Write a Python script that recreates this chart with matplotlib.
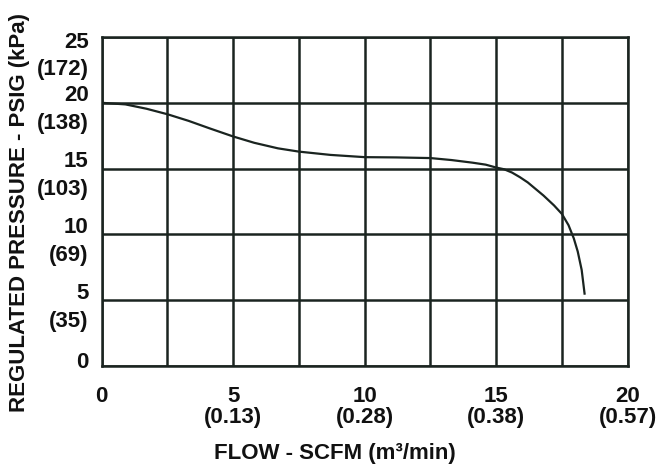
import matplotlib
matplotlib.use("Agg")
import matplotlib.pyplot as plt

# flow (SCFM) vs regulated pressure (PSIG)
flow = [0, 0.9, 1.7, 2.5, 3.3, 4.1, 5.0, 5.8, 6.7, 7.5, 8.7, 10.0, 11.2, 12.5,
        13.3, 14.1, 14.6, 15.0, 15.3, 15.6, 15.9, 16.2, 16.5, 16.8, 17.2,
        17.5, 17.75, 17.95, 18.1, 18.25, 18.36]
pressure = [20.0, 19.88, 19.55, 19.13, 18.63, 18.06, 17.44, 16.96, 16.54, 16.29,
            16.04, 15.87, 15.85, 15.8, 15.65, 15.45, 15.3, 15.08, 14.95, 14.7,
            14.35, 13.95, 13.45, 12.95, 12.2, 11.55, 10.7, 9.7, 8.7, 7.3, 5.5]

x_ticks = [0, 5, 10, 15, 20]
x_metric = ["", "(0.13)", "(0.28)", "(0.38)", "(0.57)"]
y_ticks = [0, 5, 10, 15, 20, 25]
y_metric = ["", "(35)", "(69)", "(103)", "(138)", "(172)"]

line_col = "#1a2420"
txt_col = "#111111"
plt.rcParams['font.family'] = ['Liberation Sans', 'DejaVu Sans']
plt.rcParams['font.weight'] = 'bold'

fig = plt.figure(figsize=(6.58, 4.68), dpi=100)
ax = fig.add_axes([101.7 / 658, 1 - 366 / 468, 526 / 658, 329 / 468])

ax.plot(flow, pressure, color=line_col, lw=1.6, zorder=3)

ax.set_xlim(0, 20)
ax.set_ylim(0, 25)
ax.set_xticks([i * 2.5 for i in range(9)])
ax.set_yticks(y_ticks)
ax.grid(True, color=line_col, lw=1.8)
ax.tick_params(length=0, labelbottom=False, labelleft=False)
for s in ax.spines.values():
    s.set_color(line_col)
    s.set_linewidth(1.8)

fs = 16
for v, m in zip(x_ticks, x_metric):
    ax.annotate(str(v), (v, 0), xycoords='data', textcoords='offset pixels',
                xytext=(0, -31), ha='center', va='center', fontsize=fs,
                fontweight='bold', color=txt_col)
    if m:
        ax.annotate(m, (v, 0), xycoords='data', textcoords='offset pixels',
                    xytext=(0, -52), ha='center', va='center', fontsize=fs,
                    fontweight='bold', color=txt_col)

for v, m in zip(y_ticks, y_metric):
    dn, dm = 7, -21
    if v == 25:
        dn, dm = -6, -33
    if v == 0:
        dn = 4
    ax.annotate(str(v), (0, v), xycoords=('axes fraction', 'data'),
                textcoords='offset pixels', xytext=(-13, dn), ha='right',
                va='center', fontsize=fs, fontweight='bold', color=txt_col)
    if m:
        ax.annotate(m, (0, v), xycoords=('axes fraction', 'data'),
                    textcoords='offset pixels', xytext=(-13, dm), ha='right',
                    va='center', fontsize=fs, fontweight='bold', color=txt_col)

fig.text(335 / 658, 1 - 453 / 468, "FLOW - SCFM (m\u00b3/min)", ha='center',
         va='center', fontsize=fs, fontweight='bold', color=txt_col)
fig.text(20 / 658, 1 - 213 / 468, "REGULATED PRESSURE - PSIG (kPa)",
         rotation=90, ha='center', va='center', fontsize=fs,
         fontweight='bold', color=txt_col)

fig.savefig("out.png", dpi=100)
